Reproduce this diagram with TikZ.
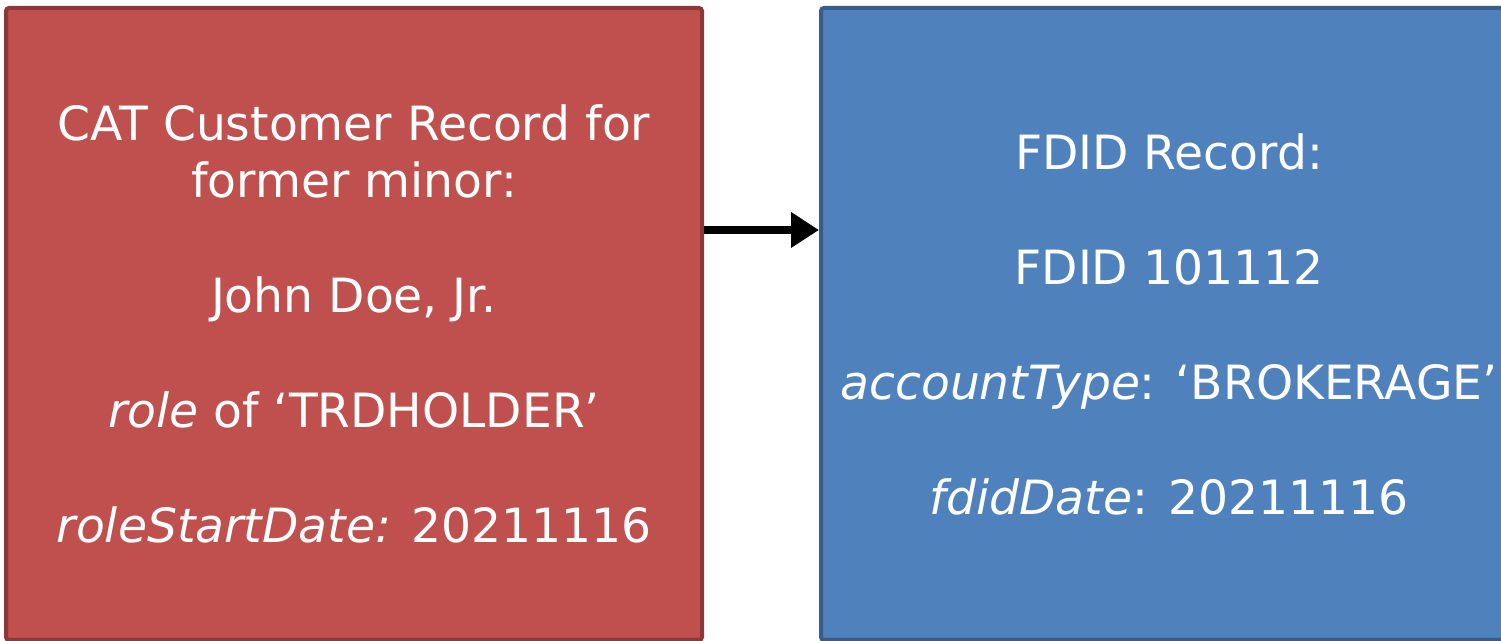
\documentclass[tikz,border=0pt]{standalone}
\usepackage{fontspec}
\setmainfont{DejaVu Sans}
\usetikzlibrary{positioning,arrows.meta}
\definecolor{recordred}{HTML}{C0504D}
\definecolor{recordredline}{HTML}{8C3836}
\definecolor{recordblue}{HTML}{4F81BD}
\definecolor{recordblueline}{HTML}{385D8A}
\tikzset{
    recordbox/.style={draw, line width=2pt, rounded corners=1.5pt,
        minimum width=348pt, minimum height=316pt, align=center,
        text=white, font=\fontsize{23.6}{28.75}\selectfont},
    custbox/.style={recordbox, fill=recordred, draw=recordredline},
    fdidbox/.style={recordbox, fill=recordblue, draw=recordblueline},
    linkarrow/.style={line width=4pt, -{Triangle[length=14pt,width=17pt]}}
}
\begin{document}
\begin{tikzpicture}[x=0.5pt,y=-0.5pt]
\useasboundingbox (0,0) rectangle (1501,641);

\node[custbox] (cust) at (354,324) {CAT Customer Record for\\former minor:\\[28.75pt]
    John Doe, Jr.\\[28.75pt]
    \textit{role} of ‘TRDHOLDER’\\[28.75pt]
    \textit{roleStartDate:} 20211116};

\node[fdidbox, right=57.5pt of cust] (fdid) {FDID Record:\\[28.75pt]
    FDID 101112\\[28.75pt]
    \textit{accountType}: ‘BROKERAGE’\\[28.75pt]
    \textit{fdidDate}: 20211116};

\draw[linkarrow] (cust.east |- 0,230) -- (fdid.west |- 0,230);
\end{tikzpicture}
\end{document}
